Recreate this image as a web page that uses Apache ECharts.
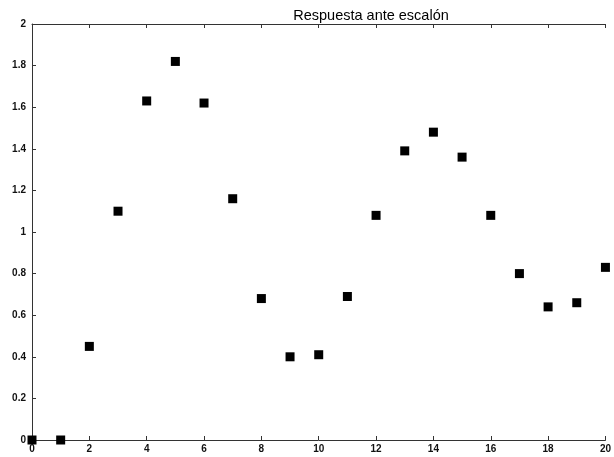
<!DOCTYPE html>
<html><head><meta charset="utf-8">
<script src="https://cdn.jsdelivr.net/npm/echarts@6/dist/echarts.min.js"></script>
<style>html,body{margin:0;padding:0;background:#fff}#c{width:614px;height:457px}</style>
</head><body><div id="c"></div>
<script>
const titleText = "Respuesta ante escalón";
const steps = [0,1,2,3,4,5,6,7,8,9,10,11,12,13,14,15,16,17,18,19,20];
const response = [0,0,0.45,1.10,1.63,1.82,1.62,1.16,0.68,0.40,0.41,0.69,1.08,1.39,1.48,1.36,1.08,0.80,0.64,0.66,0.83];

const chart = echarts.init(document.getElementById('c'));
const lab = {color:'#111', fontSize:10, fontWeight:'bold', fontFamily:'Liberation Sans, Arial, sans-serif'};
chart.setOption({
  animation:false,
  backgroundColor:'#fff',
  title:{text:titleText, left:366, top:3, textAlign:'center',
    textStyle:{fontSize:14.5, fontWeight:'normal', color:'#000', fontFamily:'Liberation Sans, Arial, sans-serif'}},
  grid:{left:32, top:24, width:585, height:416},
  xAxis:[{type:'value', min:0, max:20, interval:2, position:'bottom',
    axisLine:{lineStyle:{color:'#333', width:1}},
    axisTick:{inside:true, length:4, lineStyle:{color:'#333'}},
    axisLabel:Object.assign({margin:4}, lab),
    splitLine:{show:false}},
   {type:'value', min:0, max:20, interval:2, position:'top',
    axisLine:{lineStyle:{color:'#333', width:1}},
    axisTick:{inside:true, length:4, lineStyle:{color:'#333'}},
    axisLabel:{show:false}, splitLine:{show:false}}],
  yAxis:{type:'value', min:0, max:2, interval:0.2,
    axisLine:{show:true, lineStyle:{color:'#333', width:1}},
    axisTick:{show:true, inside:true, length:4, lineStyle:{color:'#333'}},
    axisLabel:Object.assign({margin:6}, lab),
    splitLine:{show:false}},
  series:[{type:'scatter', symbol:'rect', symbolSize:9,
    itemStyle:{color:'#000', opacity:1},
    data: steps.map((s,i)=>[s, response[i]])}]
});
</script></body></html>
